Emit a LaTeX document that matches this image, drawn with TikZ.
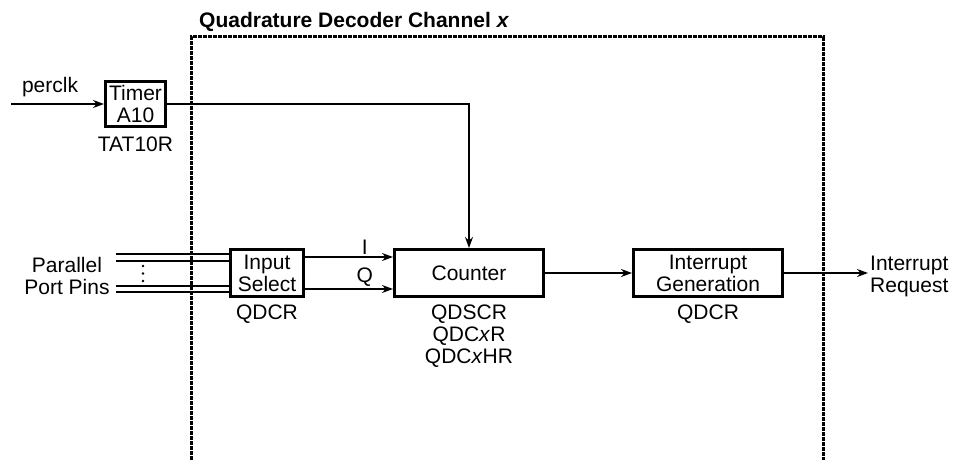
\documentclass[tikz,border=0pt]{standalone}
\usepackage{fontspec}
\setmainfont{Liberation Sans}
\usetikzlibrary{arrows.meta, positioning}

\begin{document}
\begin{tikzpicture}[
  x=1pt, y=-1pt,
  node distance=5pt,
  lbl/.style={font=\fontsize{21pt}{22pt}\selectfont, inner sep=2pt, align=center},
  box/.style={lbl, draw, line width=2.8pt, minimum height=47.2pt},
  arr/.style={-{Stealth[length=11pt, width=8pt]}, line width=2pt},
  wire/.style={line width=2pt},
  chan/.style={line width=3pt, dash pattern=on 4pt off 1pt}
]
  \useasboundingbox (0,0) rectangle (958,460);
  \node[lbl, anchor=base west, font=\fontsize{21pt}{22pt}\selectfont\bfseries] (title) at (197,27.5) {Quadrature Decoder Channel \textit{x}};
  \draw[chan] (191,460) -- (191,37) -- (823,37) -- (823,460);

  \node[box, minimum width=60.2pt, minimum height=45.2pt] (timer) at (135.5,104) {Timer\\A10};
  \node[lbl, below=7pt of timer] (timerreg) {TAT10R};
  \node[box, minimum width=73.2pt] (insel) at (267,273) {Input\\Select};
  \node[lbl, below=of insel] (inselreg) {QDCR};
  \node[box, minimum width=149.2pt, right=88pt of insel] (counter) {Counter};
  \node[lbl, below=of counter] (countreg) {QDSCR\\QDC\textit{x}R\\QDC\textit{x}HR};
  \node[box, minimum width=149.2pt, right=87pt of counter] (intgen) {Interrupt\\Generation};
  \node[lbl, below=of intgen] (intreg) {QDCR};
  \node[lbl, align=left, anchor=west] (irq) at (868,276) {Interrupt\\Request};
  \node[lbl] (pins) at (67,276) {Parallel\\Port Pins};

  % clock into the timer, timer output down to the counter
  \coordinate (clk) at (11,104);
  \draw[arr] (clk) -- node[lbl, pos=0.42, above=4pt] (clklbl) {perclk} (timer);
  \draw[arr, line width=1.5pt] (timer) -| (counter);

  % port pins into the input select
  \coordinate (pin1) at (116,254);
  \coordinate (pin2) at (116,261);
  \coordinate (pin3) at (116,286);
  \coordinate (pin4) at (116,292);
  \draw[wire] (pin1) -- (pin1 -| insel.west);
  \draw[wire] (pin2) -- (pin2 -| insel.west);
  \draw[wire] (pin3) -- (pin3 -| insel.west);
  \draw[wire] (pin4) -- (pin4 -| insel.west);
  \fill (143,266) circle (1.4pt);
  \fill (143,273.5) circle (1.4pt);
  \fill (143,281) circle (1.4pt);

  \coordinate (iout) at ([yshift=-9pt]insel.north east);
  \coordinate (qout) at ([yshift=9pt]insel.south east);
  \draw[arr] (iout) -- node[lbl, pos=0.68, above] (ilbl) {I} (iout -| counter.west);
  \draw[arr] (qout) -- node[lbl, pos=0.68, above] (qlbl) {Q} (qout -| counter.west);
  \draw[arr] (counter) -- (intgen);
  \draw[arr] (intgen) -- (intgen.east -| irq.west);
\end{tikzpicture}
\end{document}
